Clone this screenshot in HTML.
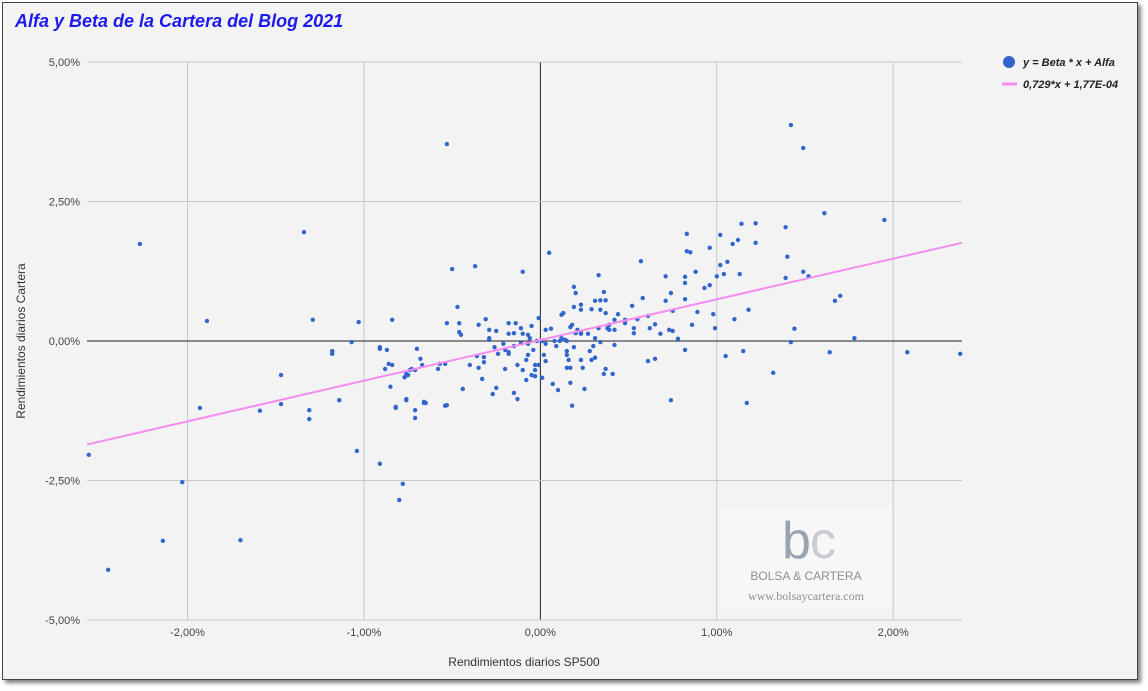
<!DOCTYPE html>
<html><head><meta charset="utf-8"><style>
body{margin:0;width:1148px;height:691px;background:#fff;font-family:"Liberation Sans",sans-serif;overflow:hidden}
#frame{position:absolute;left:2px;top:2px;width:1134px;height:676px;background:#f3f3f3;border:1px solid #444;box-shadow:3px 3px 4px rgba(0,0,0,.5)}
</style></head><body>
<div id="frame"></div>
<svg id="chart" width="1148" height="691" style="position:absolute;left:0;top:0">
<text x="15" y="27" font-size="18" font-weight="bold" font-style="italic" fill="#1a1aee">Alfa y Beta de la Cartera del Blog 2021</text>
<g id="grid"></g>
<g>
<rect x="720" y="508" width="172" height="100" fill="#f7f7f7"/>
<text x="782" y="558" font-size="52" fill="#9aa4ae" font-family="Liberation Sans,sans-serif">b</text>
<text x="810" y="558" font-size="52" fill="#c7ccd2">c</text>
<text x="806" y="580" font-size="12" fill="#8a8f95" text-anchor="middle">BOLSA &amp; CARTERA</text>
<text x="806" y="600" font-size="12" fill="#8a8f95" text-anchor="middle" font-family="Liberation Serif,serif">www.bolsaycartera.com</text>
</g>
<g id="marks"></g>
<text x="524" y="666" font-size="12" fill="#333" text-anchor="middle">Rendimientos diarios SP500</text>
<text transform="translate(25,341) rotate(-90)" font-size="12" fill="#333" text-anchor="middle">Rendimientos diarios Cartera</text>
<g>
<g><circle cx="1009" cy="62" r="6" fill="#3366cc"/><text x="1023" y="66" font-size="11" font-weight="bold" font-style="italic" fill="#222">y = Beta * x + Alfa</text></g>
<g><line x1="1002" y1="84" x2="1017" y2="84" stroke="#f58cf0" stroke-width="3"/><text x="1023" y="88" font-size="11" font-weight="bold" font-style="italic" fill="#222">0,729*x + 1,77E-04</text></g>
</g>
</svg>
<script>
const xTicks=[-2,-1,0,1,2];
const yTicks=[-5,-2.5,0,2.5,5];
const xTickLabels=["-2,00%","-1,00%","0,00%","1,00%","2,00%"];
const yTickLabels=["-5,00%","-2,50%","0,00%","2,50%","5,00%"];
const slope=0.729;
const intercept=0.0177;
const xs=[-2.56,-2.45,-2.27,-2.14,-2.03,-1.93,-1.89,-1.70,-1.59,-1.47,-1.47,-1.34,-1.31,-1.31,-1.29,-1.18,-1.18,-1.14,-1.07,-1.04,-1.03,-0.91,-0.91,-0.88,-0.84,-0.82,-0.80,-0.78,-0.76,-0.76,-0.73,-0.66,-0.53,-0.50,-0.37,
0.05,-0.10,0.57,0.33,0.71,-0.47,-0.53,-0.46,-0.46,-0.45,-0.35,-0.31,-0.29,-0.25,-0.18,-0.14,-0.18,-0.15,-0.11,-0.05,-0.01,-0.10,-0.07,-0.06,-0.29,-0.29,-0.21,-0.11,-0.07,-0.02,0.01,0.03,0.06,0.19,0.20,0.19,0.23,0.23,0.12,0.13,0.17,0.18,0.20,0.21,0.23,0.23,0.27,0.31,0.34,0.37,0.36,0.29,0.34,0.37,0.44,0.52,0.58,0.71,0.74,0.75,0.61,0.55,0.48,0.48,0.42,0.39,0.33,0.38,0.39,0.42,0.53,0.53,0.65,0.62,0.68,0.73,0.75,0.78,0.08,0.11,0.12,0.14,0.15,0.09,0.03,0.31,0.34,0.30,0.19,0.28,0.42,0.15,0.15,0.16,0.02,0.03,0.23,0.31,0.29,0.15,0.17,0.24,0.37,0.36,0.41,0.61,0.65,0.07,0.10,0.17,0.25,0.18,0.74,
-0.04,-0.07,-0.08,-0.03,-0.01,-0.03,-0.05,-0.03,0.01,-0.08,-0.10,-0.13,-0.15,-0.13,-0.15,-0.20,-0.18,-0.18,-0.24,-0.26,-0.36,-0.32,-0.32,-0.35,-0.33,-0.40,-0.20,-0.25,-0.27,-0.44,-0.54,-0.57,-0.58,-0.67,-0.68,-0.70,-0.71,-0.74,-0.75,-0.77,-0.84,-0.86,-0.87,-0.91,-0.85,-0.76,-0.82,-0.71,-0.71,-0.66,-0.65,-0.54,-0.53,
1.61,1.39,1.22,1.14,1.12,1.09,1.22,1.02,0.83,0.83,0.85,0.96,1.40,1.06,1.02,1.04,1.13,1.00,0.88,0.82,0.82,1.49,1.52,1.39,0.96,0.93,0.82,1.67,0.89,0.98,1.18,1.10,0.86,0.99,1.44,1.42,0.82,1.05,1.15,1.64,
1.42,1.49,1.70,1.95,1.78,2.08,2.38,1.17,1.32];
const ys=[-2.04,-4.10,1.74,-3.58,-2.53,-1.20,0.36,-3.57,-1.25,-1.13,-0.61,1.95,-1.24,-1.40,0.38,-0.23,-0.18,-1.06,-0.02,-1.97,0.34,-0.11,-2.20,-0.50,0.38,-1.18,-2.85,-2.56,-1.04,-0.59,-0.50,-1.09,3.53,1.29,1.34,
1.58,1.24,1.43,1.18,1.16,0.61,0.32,0.32,0.16,0.11,0.29,0.39,0.20,0.18,0.32,0.32,0.13,0.14,0.23,0.27,0.41,0.13,0.11,0.05,0.05,0.02,-0.05,-0.04,-0.05,0,0,0.20,0.22,0.97,0.86,0.61,0.65,0.56,0.47,0.50,0.25,0.29,0.14,0.20,0.16,0.13,0.13,0.72,0.73,0.73,0.88,0.57,0.56,0.50,0.48,0.63,0.77,0.72,0.86,0.54,0.45,0.39,0.38,0.32,0.38,0.29,0.23,0.23,0.20,0.20,0.23,0.14,0.30,0.23,0.13,0.20,0.18,0.04,0,0,0.05,0.02,0,-0.09,-0.05,0.05,-0.02,-0.09,-0.11,-0.18,-0.07,-0.18,-0.25,-0.34,-0.25,-0.36,-0.34,-0.30,-0.34,-0.48,-0.48,-0.48,-0.50,-0.59,-0.59,-0.36,-0.32,-0.77,-0.88,-0.75,-0.86,-1.16,-1.06,
-0.16,-0.25,-0.34,-0.43,-0.43,-0.52,-0.61,-0.63,-0.66,-0.70,-0.52,-0.43,-0.93,-1.04,-0.09,-0.16,-0.20,-0.23,-0.23,-0.11,-0.27,-0.29,-0.38,-0.48,-0.68,-0.43,-0.50,-0.84,-0.95,-0.86,-0.41,-0.41,-0.50,-0.43,-0.32,-0.14,-0.52,-0.52,-0.61,-0.65,-0.43,-0.41,-0.16,-0.14,-0.82,-1.06,-1.20,-1.24,-1.38,-1.11,-1.11,-1.16,-1.15,
2.29,2.04,2.11,2.10,1.81,1.74,1.76,1.90,1.92,1.61,1.59,1.67,1.51,1.42,1.36,1.20,1.20,1.16,1.24,1.15,1.04,1.24,1.16,1.13,1.00,0.95,0.75,0.72,0.52,0.48,0.56,0.39,0.29,0.23,0.22,-0.02,-0.16,-0.27,-0.18,-0.20,
3.87,3.46,0.81,2.17,0.05,-0.20,-0.23,-1.11,-0.57];
const L=87,R=962,T=62,B=620,XMIN=-2.57,XMAX=2.39,YMIN=-5,YMAX=5;
const sx=v=>L+(v-XMIN)/(XMAX-XMIN)*(R-L);
const sy=v=>B-(v-YMIN)/(YMAX-YMIN)*(B-T);
const NS="http://www.w3.org/2000/svg";
const grid=document.getElementById('grid'),marks=document.getElementById('marks');
function mk(tag,attrs,parent){const e=document.createElementNS(NS,tag);for(const k in attrs)e.setAttribute(k,attrs[k]);parent.appendChild(e);return e;}
xTicks.forEach((t,i)=>{
 const l=mk('line',{x1:sx(t),x2:sx(t),y1:T,y2:B,stroke:t===0?'#222':'#c8c8c8','stroke-width':1},grid);
 
 
 const tx=mk('text',{x:sx(t),y:B+16,'font-size':11,fill:'#444','text-anchor':'middle'},grid);
 tx.textContent=xTickLabels[i];
 
 
});
yTicks.forEach((t,i)=>{
 const l=mk('line',{x1:L,x2:R,y1:sy(t),y2:sy(t),stroke:t===0?'#222':'#c8c8c8','stroke-width':1},grid);
 
 
 const tx=mk('text',{x:L-7,y:sy(t)+4,'font-size':11,fill:'#444','text-anchor':'end'},grid);
 tx.textContent=yTickLabels[i];
 
 
});
xs.forEach((x,i)=>{
 const c=mk('circle',{cx:sx(x),cy:sy(ys[i]),r:2.2,fill:'#3366cc'},marks);
 
 
});
const tl=mk('line',{x1:sx(XMIN),y1:sy(slope*XMIN+intercept),x2:sx(XMAX),y2:sy(slope*XMAX+intercept),stroke:'#f58cf0','stroke-width':2},marks);


</script>
</body></html>
